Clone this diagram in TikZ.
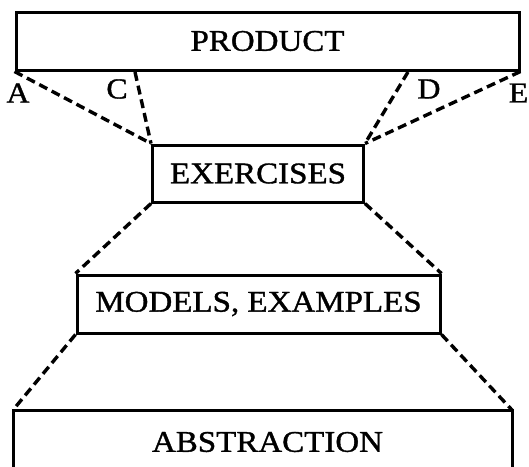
\documentclass[tikz,border=0pt]{standalone}
\usepackage{fontspec}
\setmainfont{Liberation Serif}
\newfontfamily\widefont[FakeStretch=1.1,FakeBold=1.2]{Liberation Serif}
\begin{document}
\begin{tikzpicture}[x=1pt,y=-1pt,
  box/.style={draw=black, line width=3pt, inner sep=0pt, font=\widefont\fontsize{30}{33}\selectfont},
  lbl/.style={inner sep=0pt, font=\widefont\fontsize{29}{32}\selectfont},
  dline/.style={draw=black, line width=3.4pt, dash pattern=on 9pt off 5pt}]
\useasboundingbox (0,0) rectangle (529,466);
\node[box, minimum width=503pt, minimum height=58pt] (prod) at (267.5,41) {PRODUCT};
\node[box, minimum width=211pt, minimum height=57pt] (ex) at (258,173.5) {EXERCISES};
\node[box, minimum width=363pt, minimum height=58pt] (mod) at (258.5,304) {MODELS, EXAMPLES};
\coordinate (abl) at (13,410);
\coordinate (abr) at (512,410);
\coordinate (abbl) at (13,470);
\coordinate (abbr) at (512,470);
\draw[line width=3pt] (abbl) -- (abl) -- (abr) -- (abbr);
\node[box, draw=none] (abs) at (267.5,442) {ABSTRACTION};
\coordinate (c) at (135,72);
\coordinate (d) at (408,72);
\node[lbl] (la) at (18,93) {A};
\node[lbl] (lc) at (117,89) {C};
\node[lbl] (ld) at (429,89) {D};
\node[lbl, anchor=east] (le) at (528.5,93) {E};
\draw[dline] (prod.south west) -- (ex.north west);
\draw[dline] (c) -- (ex.north west);
\draw[dline] (d) -- (ex.north east);
\draw[dline] (prod.south east) -- (ex.north east);
\draw[dline] (ex.south west) -- (mod.north west);
\draw[dline] (ex.south east) -- (mod.north east);
\draw[dline] (mod.south west) -- (abl);
\draw[dline] (mod.south east) -- (abr);
\end{tikzpicture}
\end{document}
